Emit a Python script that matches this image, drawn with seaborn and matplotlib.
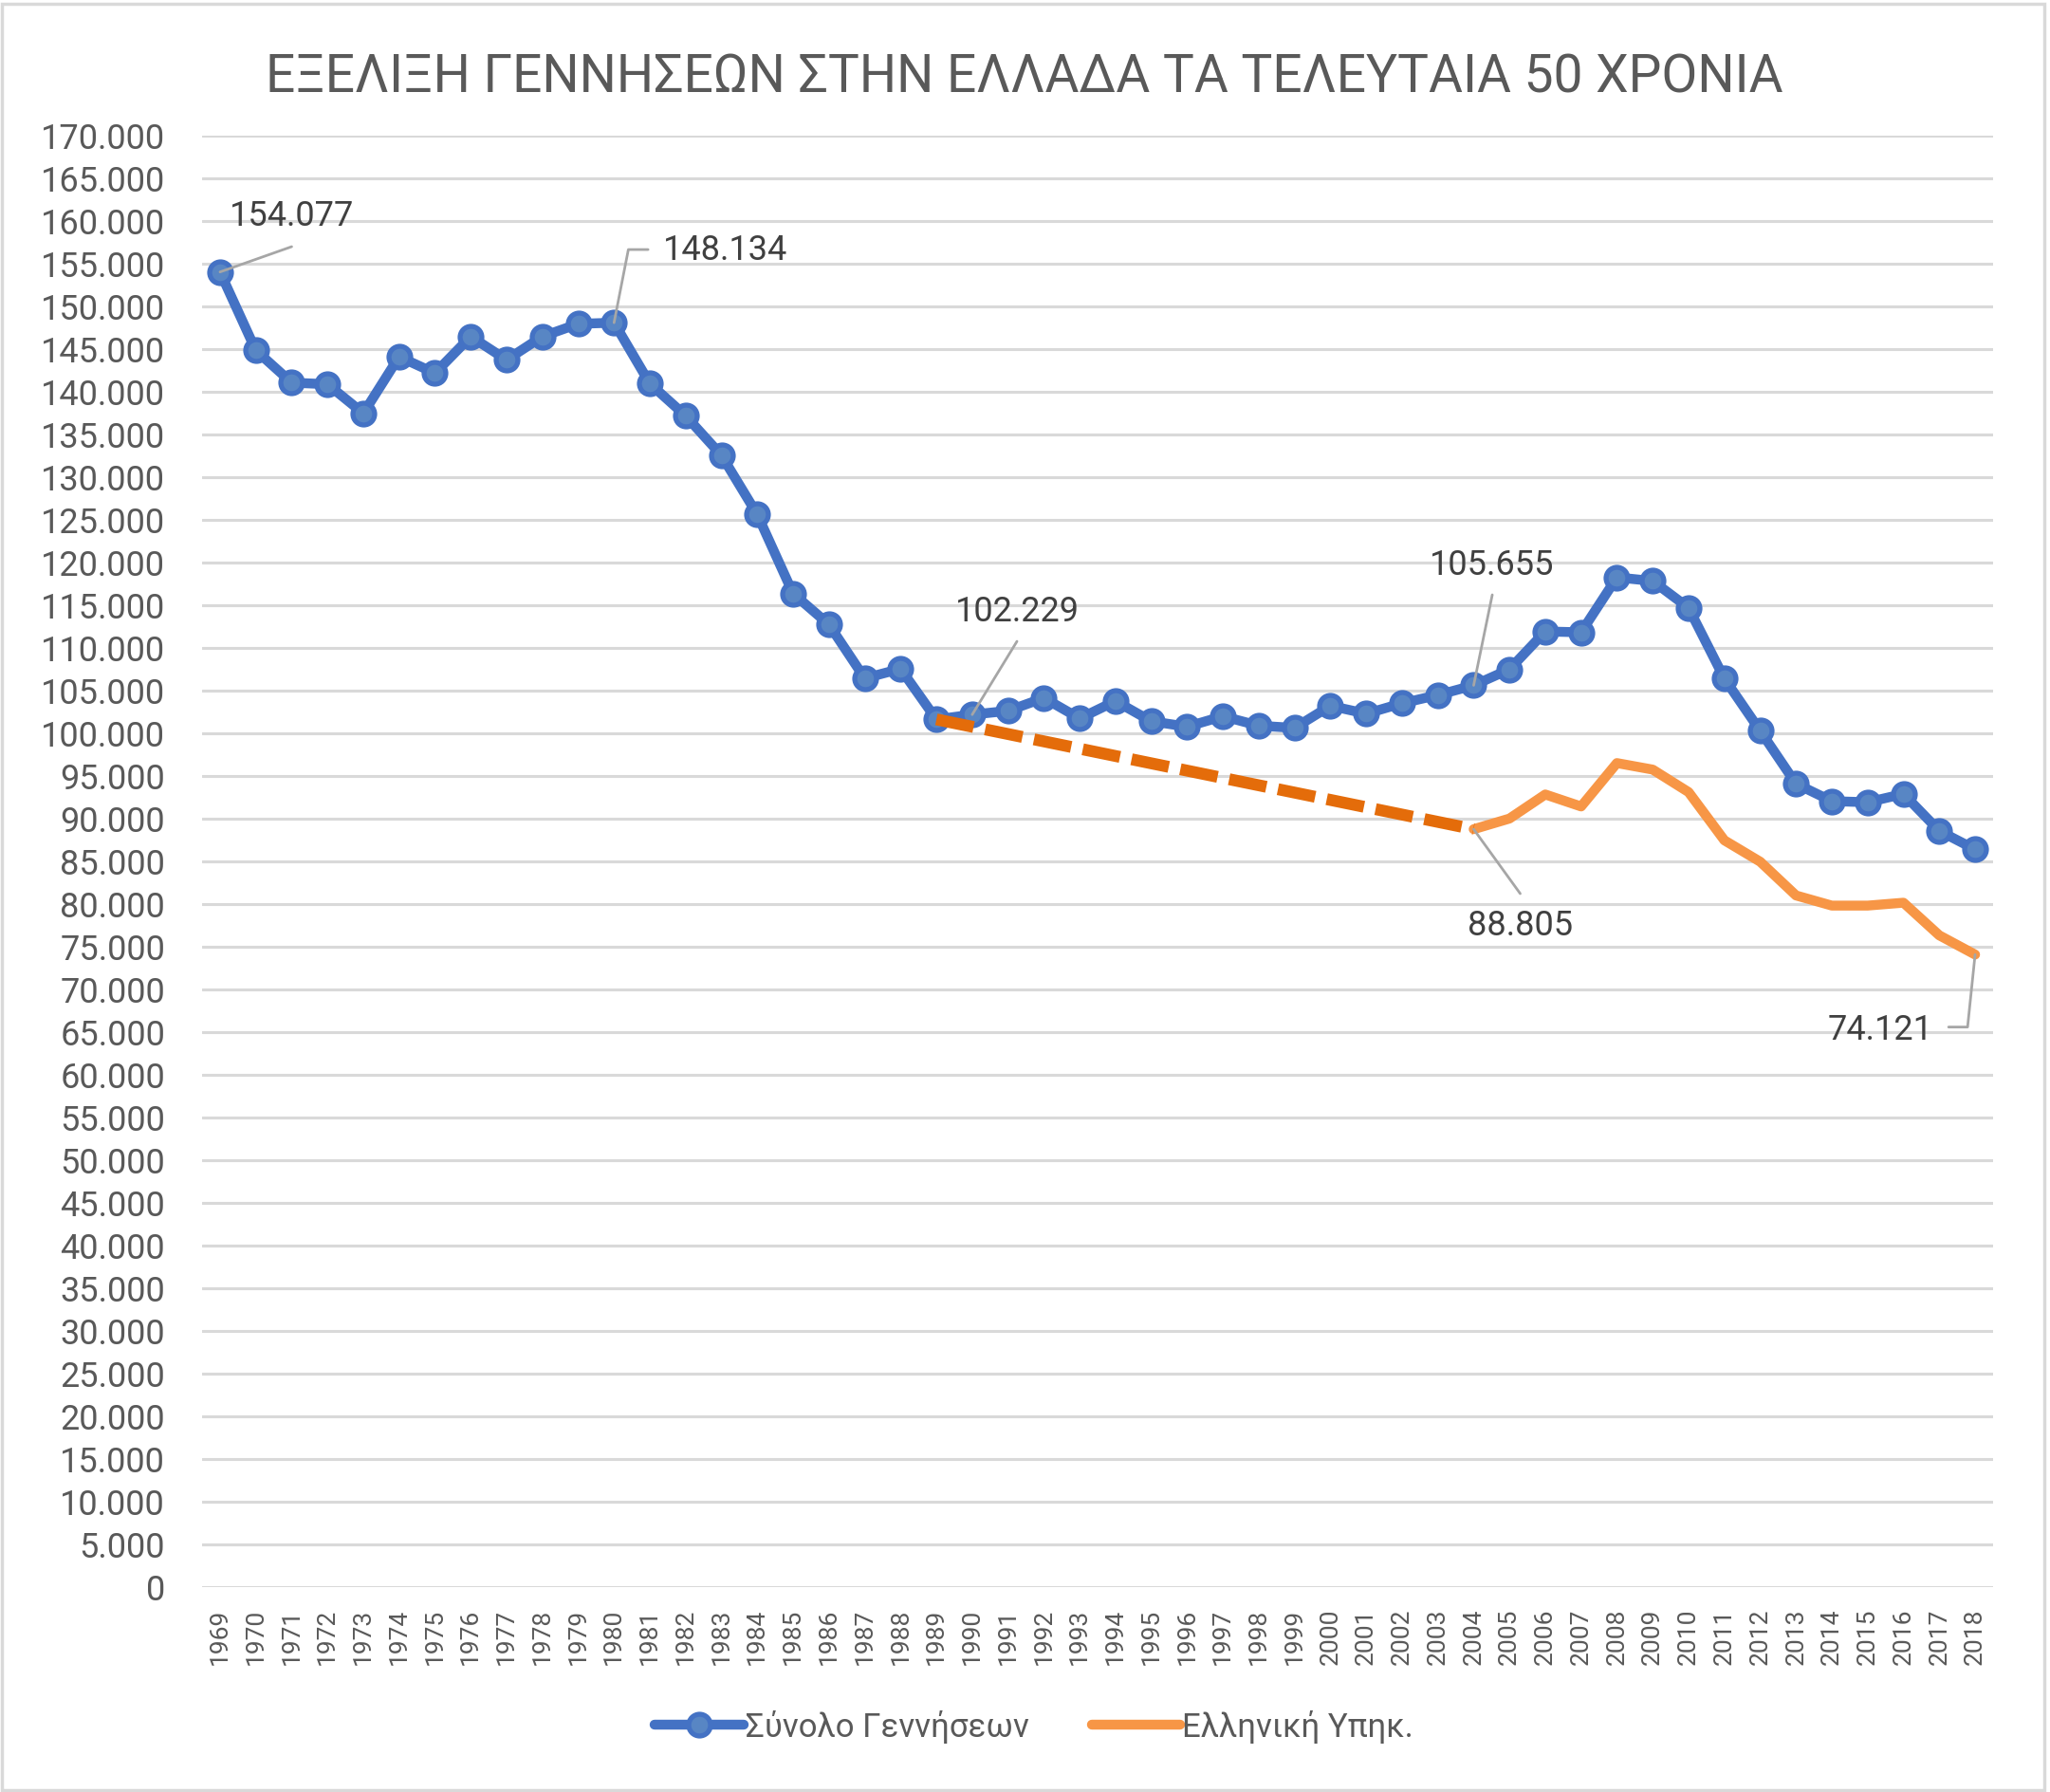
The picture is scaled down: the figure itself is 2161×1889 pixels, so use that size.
import matplotlib
matplotlib.use("Agg")
import matplotlib.pyplot as plt
import matplotlib.patches as mpatches
import seaborn as sns
import pandas as pd
from matplotlib.ticker import FuncFormatter, MultipleLocator

# ---------------- data ----------------
years = list(range(1969, 2019))
total_births = [154077, 144889, 141111, 140926, 137519, 144148, 142222, 146519, 143778, 146519,
                148000, 148134, 141000, 137222, 132593, 125667, 116407, 112778, 106481, 107593,
                101667, 102229, 102667, 104185, 101778, 103815, 101444, 100815, 102037, 100926,
                100667, 103259, 102333, 103556, 104519, 105655, 107536, 111967, 111869, 118301,
                117876, 114732, 106449, 100331, 94129, 92090, 91963, 92940, 88607, 86440]
greek_years = list(range(2004, 2019))
greek_births = [88805, 90051, 92872, 91467, 96551, 95786, 93152, 87502, 84996, 81045,
                79856, 79856, 80195, 76372, 74121]
trend_years = [1989, 2004]
trend_values = [101667, 88805]

series_names = ["Σύνολο Γεννήσεων", "Ελληνική Υπηκ."]
title_text = "ΕΞΕΛΙΞΗ ΓΕΝΝΗΣΕΩΝ ΣΤΗΝ ΕΛΛΑΔΑ ΤΑ ΤΕΛΕΥΤΑΙΑ 50 ΧΡΟΝΙΑ"

# labelled points: (year, value, label)
labelled_years = [1969, 1980, 1990, 2004, 2004, 2018]
labelled_values = [154077, 148134, 102229, 105655, 88805, 74121]
labelled_texts = ["154.077", "148.134", "102.229", "105.655", "88.805", "74.121"]

# ---------------- style ----------------
sns.set_theme(style="white")
plt.rcParams["font.family"] = ["Roboto", "DejaVu Sans"]

BLUE = "#4472C4"
BLUE_FILL = "#5886C4"
ORANGE = "#F79646"
DARK_ORANGE = "#E46C0A"
GRID = "#D9D9D9"
TICK = "#595959"
LABEL = "#404040"
LEADER = "#A6A6A6"

fig = plt.figure(figsize=(21.61, 18.89), dpi=100)
ax = fig.add_axes([0.0986, 0.1142, 0.9722 - 0.0986, 0.9241 - 0.1142])

df_total = pd.DataFrame({"year": years, "births": total_births})
df_greek = pd.DataFrame({"year": greek_years, "births": greek_births})
df_trend = pd.DataFrame({"year": trend_years, "births": trend_values})

sns.lineplot(data=df_total, x="year", y="births", ax=ax, color=BLUE, linewidth=7.5,
             marker="o", markersize=16.5, markeredgewidth=3.8,
             markerfacecolor=BLUE_FILL, markeredgecolor=BLUE,
             label=series_names[0], zorder=3)
sns.lineplot(data=df_greek, x="year", y="births", ax=ax, color=ORANGE, linewidth=7.5,
             label=series_names[1], zorder=3)
trend_line = sns.lineplot(data=df_trend, x="year", y="births", ax=ax, color=DARK_ORANGE,
                          linewidth=9.0, legend=False, zorder=4)
trend_line.lines[-1].set_dashes((3.2, 1.0))
trend_line.lines[-1].set_solid_capstyle("butt")
trend_line.lines[-1].set_dash_capstyle("butt")

# axes
ax.set_xlim(1968.5, 2018.5)
ax.set_ylim(0, 170000)
ax.yaxis.set_major_locator(MultipleLocator(5000))
ax.yaxis.set_major_formatter(FuncFormatter(lambda v, p: f"{int(round(v)):,}".replace(",", ".")))
ax.set_xticks(years)
ax.set_xticklabels([str(y) for y in years], rotation=90, fontsize=19, color=TICK)
ax.tick_params(axis="y", labelsize=26, labelcolor=TICK, length=0, pad=28)
ax.tick_params(axis="x", length=0, pad=16)
ax.grid(axis="y", color=GRID, linewidth=2.2)
ax.grid(axis="x", visible=False)
ax.set_axisbelow(True)
for s in ax.spines.values():
    s.set_visible(False)
ax.set_xlabel("")
ax.set_ylabel("")

# data labels with leader lines: text position (year, value) and leader path
text_pos = [(1971.0, 160600), (1983.1, 156600), (1991.25, 114260),
            (2004.5, 119700), (2005.3, 77480), (2015.35, 65260)]
leader_paths = [
    [(1969.0, 154077), (1971.0, 157040)],
    [(1980.0, 148134), (1980.4, 156700), (1980.95, 156700)],
    [(1990.0, 102229), (1991.25, 110810)],
    [(2004.0, 105655), (2004.52, 116260)],
    [(2004.0, 88805), (2005.3, 81260)],
    [(2018.0, 74121), (2017.79, 65630), (2017.26, 65630)],
]
for (tx, ty), txt, path in zip(text_pos, labelled_texts, leader_paths):
    ax.text(tx, ty, txt, fontsize=26, color=LABEL, ha="center", va="center", zorder=6)
    xs = [p[0] for p in path]
    ys = [p[1] for p in path]
    ax.plot(xs, ys, color=LEADER, linewidth=2.0, zorder=5)

# legend
handles, labels = ax.get_legend_handles_labels()
leg = ax.legend(handles[:2], labels[:2], loc="center", bbox_to_anchor=(0.5045, 0.0365),
                bbox_transform=fig.transFigure, ncol=2, frameon=False, fontsize=25,
                handlelength=2.7, handletextpad=0.05, columnspacing=1.9, labelcolor=TICK)

# title
fig.text(0.4995, 0.9565, title_text, ha="center", va="center", fontsize=39.7,
         color=TICK, fontweight="normal")

# outer border
fig.patches.append(mpatches.Rectangle((0.001, 0.001), 0.996, 0.997, transform=fig.transFigure,
                                      fill=False, edgecolor=GRID, linewidth=2.5))

fig.savefig("out.png", dpi=100, facecolor="white")
